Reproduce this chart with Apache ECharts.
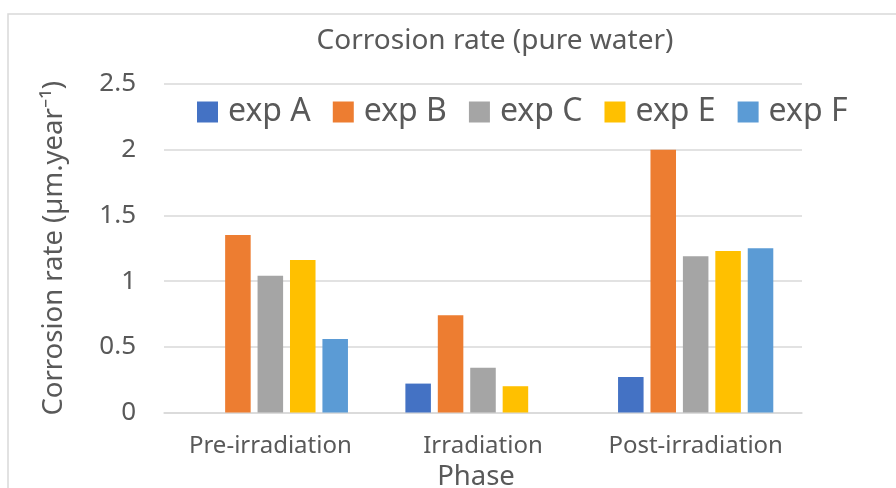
<!DOCTYPE html>
<html>
<head>
<meta charset="utf-8">
<script src="https://cdn.jsdelivr.net/npm/echarts@6/dist/echarts.min.js"></script>
<style>
  html, body { margin: 0; padding: 0; background: #fff; }
  #chart { width: 896px; height: 488px; }
</style>
</head>
<body>
<div id="chart"></div>
<script>
// Corrosion rate per irradiation phase, one bar per experiment
const phases = ['Pre-irradiation', 'Irradiation', 'Post-irradiation'];
const seriesNames = ['exp A', 'exp B', 'exp C', 'exp E', 'exp F'];
const expA = [null, 0.22, 0.27];
const expB = [1.35, 0.74, 2.0];
const expC = [1.04, 0.34, 1.19];
const expE = [1.16, 0.20, 1.23];
const expF = [0.56, null, 1.25];
const seriesValues = [expA, expB, expC, expE, expF];
const seriesColors = ['#4472C4', '#ED7D31', '#A5A5A5', '#FFC000', '#5B9BD5'];

const FONT = '"Noto Sans", sans-serif';
const TEXT = '#595959';

const chart = echarts.init(document.getElementById('chart'), null, { renderer: 'canvas' });

chart.setOption({
  backgroundColor: '#fff',
  animation: false,
  graphic: [{
    type: 'rect',
    shape: { x: 8, y: 14, width: 1000, height: 1000 },
    style: { fill: 'none', stroke: '#d9d9d9', lineWidth: 1.5 },
    silent: true
  }],
  title: {
    text: 'Corrosion rate (pure water)',
    left: 490,
    top: 22,
    textAlign: 'center',
    textStyle: { fontFamily: FONT, fontSize: 28, fontWeight: 'normal', color: TEXT }
  },
  legend: {
    data: seriesNames,
    left: 197,
    top: 96,
    padding: 0,
    icon: 'rect',
    itemWidth: 21,
    itemHeight: 21,
    itemGap: 22,
    textStyle: { fontFamily: FONT, fontSize: 32, color: TEXT, padding: [0, 0, 0, 5] }
  },
  grid: {
    left: 164,
    right: 94,
    top: 84,
    bottom: 75.5,
    outerBoundsMode: 'none'
  },
  xAxis: {
    type: 'category',
    data: phases,
    name: 'Phase',
    nameLocation: 'middle',
    nameGap: 46,
    nameTextStyle: { fontFamily: FONT, fontSize: 27.5, color: TEXT, padding: [0, 14, 0, 0] },
    axisLine: { show: true, lineStyle: { color: '#d9d9d9', width: 1.5 } },
    axisTick: { show: false },
    axisLabel: { interval: 0, fontFamily: FONT, fontSize: 24, color: TEXT, margin: 22 }
  },
  yAxis: {
    type: 'value',
    min: 0,
    max: 2.5,
    interval: 0.5,
    name: 'Corrosion rate (µm.year⁻¹)',
    nameLocation: 'middle',
    nameRotate: 90,
    nameGap: 96,
    nameTextStyle: { fontFamily: FONT, fontSize: 27.5, color: TEXT },
    axisLine: { show: false },
    axisTick: { show: false },
    splitLine: { lineStyle: { color: '#d9d9d9', width: 1.5 } },
    axisLabel: { fontFamily: FONT, fontSize: 26, color: TEXT, margin: 28 }
  },
  series: seriesNames.map((name, i) => ({
    name: name,
    type: 'bar',
    data: seriesValues[i],
    barGap: '27%',
    barCategoryGap: '27%',
    itemStyle: { color: seriesColors[i] }
  }))
});
</script>
</body>
</html>
